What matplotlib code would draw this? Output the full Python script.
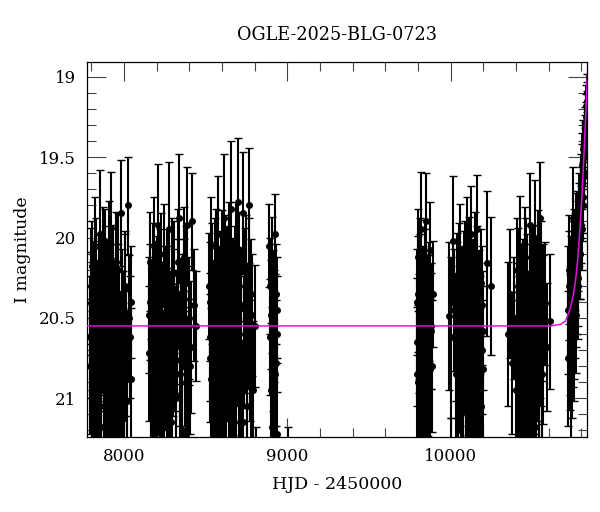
import matplotlib
matplotlib.use("Agg")
import matplotlib.pyplot as plt
from matplotlib.ticker import MultipleLocator

# ---- data (HJD-2450000, I mag, error) ----
t1 = [7792, 7798, 7803, 7807, 7812, 7818, 7823, 7829, 7834, 7840, 7846, 7851, 7857, 7862, 7868, 7874, 7880, 7886, 7892, 7898,
      7905, 7911, 7917, 7923, 7929, 7936, 7942, 7949, 7956, 7962, 7969, 7976, 7984, 7992, 8000, 8008, 8017, 8026, 8036, 8046]
m1 = [20.62, 20.41, 20.95, 20.18, 20.77, 21.10, 20.05, 20.55, 21.32, 20.48, 20.86, 19.98, 20.70, 21.18, 20.33, 20.60, 21.05, 20.12, 20.90, 20.45,
      21.40, 20.25, 20.68, 19.94, 20.83, 21.22, 20.50, 20.15, 20.97, 20.38, 21.28, 20.72, 19.85, 20.58, 21.12, 20.30, 20.88, 19.80, 20.62, 20.40]
e1 = [0.38, 0.32, 0.45, 0.28, 0.40, 0.48, 0.30, 0.36, 0.50, 0.34, 0.42, 0.40, 0.38, 0.47, 0.33, 0.36, 0.46, 0.30, 0.43, 0.35,
      0.50, 0.32, 0.39, 0.35, 0.41, 0.49, 0.36, 0.31, 0.45, 0.34, 0.50, 0.39, 0.33, 0.37, 0.47, 0.32, 0.43, 0.30, 0.38, 0.35]
t1b = [7795, 7800, 7805, 7810, 7815, 7820, 7826, 7831, 7837, 7843, 7848, 7854, 7859, 7865, 7871, 7877, 7883, 7889, 7895, 7901,
       7908, 7914, 7920, 7926, 7932, 7939, 7945, 7952, 7959, 7965, 7972, 7980, 7988, 7996, 8004, 8012, 8021, 8031, 8041]
m1b = [20.80, 20.30, 20.55, 21.05, 20.40, 20.68, 20.90, 20.22, 20.75, 21.15, 20.35, 20.62, 20.95, 20.48, 20.15, 20.85, 20.58, 21.20, 20.38, 20.72,
       20.10, 20.92, 20.52, 21.08, 20.28, 20.65, 20.98, 20.42, 20.78, 20.20, 20.60, 21.12, 20.45, 20.85, 20.32, 20.70, 21.02, 20.50, 20.88]
e1b = [0.42, 0.36, 0.40, 0.48, 0.38, 0.41, 0.45, 0.34, 0.42, 0.49, 0.37, 0.40, 0.46, 0.39, 0.34, 0.44, 0.40, 0.50, 0.37, 0.42,
       0.33, 0.45, 0.39, 0.48, 0.36, 0.41, 0.46, 0.38, 0.43, 0.35, 0.40, 0.48, 0.38, 0.44, 0.36, 0.41, 0.47, 0.39, 0.44]

t2 = [8153, 8158, 8164, 8170, 8176, 8182, 8188, 8194, 8200, 8207, 8213, 8220, 8227, 8233, 8240, 8247, 8254, 8261, 8268, 8275,
      8282, 8290, 8297, 8305, 8313, 8321, 8329, 8337, 8345, 8353, 8361, 8370, 8379, 8388, 8397, 8406, 8418, 8430, 8440]
m2 = [20.48, 20.15, 20.92, 20.60, 21.25, 20.05, 20.78, 20.36, 21.08, 19.92, 20.66, 20.28, 21.35, 20.52, 20.88, 20.10, 20.72, 21.15, 20.40, 19.95,
      20.83, 20.58, 21.30, 20.22, 20.69, 20.98, 20.35, 19.88, 20.76, 21.20, 20.46, 20.12, 20.90, 19.92, 20.55, 20.80, 19.90, 20.42, 20.55]
e2 = [0.36, 0.31, 0.44, 0.38, 0.49, 0.30, 0.41, 0.34, 0.46, 0.38, 0.39, 0.33, 0.50, 0.37, 0.43, 0.31, 0.40, 0.47, 0.35, 0.42,
      0.42, 0.37, 0.50, 0.32, 0.39, 0.45, 0.34, 0.40, 0.41, 0.48, 0.36, 0.31, 0.44, 0.36, 0.37, 0.42, 0.30, 0.35, 0.34]
t2b = [8156, 8161, 8167, 8173, 8179, 8185, 8191, 8197, 8203, 8210, 8216, 8223, 8230, 8236, 8243, 8250, 8257, 8264, 8271, 8278,
       8286, 8293, 8301, 8309, 8317, 8325, 8333, 8341, 8349, 8357, 8365, 8374, 8383, 8392, 8401, 8410]
m2b = [20.72, 20.40, 21.10, 20.55, 20.25, 20.88, 20.62, 21.18, 20.35, 20.80, 20.48, 20.95, 20.18, 20.66, 21.05, 20.42, 20.78, 20.30, 20.92, 20.58,
       21.15, 20.22, 20.70, 20.45, 21.00, 20.60, 20.15, 20.85, 20.52, 21.22, 20.38, 20.75, 20.28, 20.96, 20.50, 20.68]
e2b = [0.42, 0.36, 0.47, 0.39, 0.34, 0.44, 0.40, 0.49, 0.36, 0.43, 0.38, 0.45, 0.33, 0.40, 0.47, 0.37, 0.42, 0.35, 0.45, 0.39,
       0.48, 0.34, 0.41, 0.38, 0.46, 0.40, 0.33, 0.44, 0.39, 0.50, 0.37, 0.42, 0.35, 0.46, 0.38, 0.41]

t3 = [8521, 8527, 8533, 8539, 8545, 8551, 8557, 8563, 8569, 8575, 8582, 8588, 8594, 8601, 8607, 8614, 8620, 8627, 8634, 8641,
      8648, 8655, 8662, 8669, 8676, 8684, 8691, 8699, 8707, 8715, 8723, 8731, 8739, 8747, 8755, 8763, 8771, 8780, 8790, 8800, 8807]
m3 = [20.30, 20.75, 20.05, 21.12, 20.50, 20.88, 20.20, 21.30, 20.62, 19.98, 20.84, 20.40, 21.20, 20.14, 20.70, 19.88, 21.02, 20.46, 20.26, 21.38,
      20.58, 19.82, 20.92, 20.34, 21.15, 20.08, 20.66, 19.78, 20.96, 20.42, 21.26, 19.85, 20.60, 20.18, 21.05, 19.80, 20.74, 20.35, 20.95, 20.55, 21.65]
e3 = [0.33, 0.40, 0.30, 0.46, 0.36, 0.42, 0.32, 0.50, 0.38, 0.36, 0.42, 0.35, 0.48, 0.31, 0.40, 0.40, 0.45, 0.36, 0.33, 0.50,
      0.37, 0.42, 0.44, 0.34, 0.47, 0.30, 0.39, 0.40, 0.44, 0.35, 0.49, 0.38, 0.37, 0.32, 0.46, 0.36, 0.40, 0.34, 0.43, 0.38, 0.47]
t3b = [8524, 8530, 8536, 8542, 8548, 8554, 8560, 8566, 8572, 8578, 8585, 8591, 8597, 8604, 8610, 8617, 8623, 8630, 8637, 8644,
       8651, 8658, 8665, 8672, 8680, 8687, 8695, 8703, 8711, 8719, 8727, 8735, 8743, 8751, 8759, 8767, 8775, 8785]
m3b = [20.62, 20.40, 20.88, 20.25, 21.02, 20.55, 20.78, 20.15, 20.92, 20.45, 20.68, 21.12, 20.32, 20.85, 20.58, 20.20, 20.95, 20.48, 20.72, 20.10,
       21.08, 20.38, 20.80, 20.62, 20.28, 20.98, 20.52, 20.18, 20.86, 20.44, 21.15, 20.65, 20.30, 20.90, 20.55, 20.22, 20.82, 20.48]
e3b = [0.40, 0.37, 0.44, 0.34, 0.46, 0.39, 0.42, 0.33, 0.45, 0.38, 0.41, 0.48, 0.36, 0.44, 0.40, 0.34, 0.45, 0.38, 0.42, 0.32,
       0.47, 0.37, 0.43, 0.40, 0.35, 0.46, 0.39, 0.34, 0.44, 0.38, 0.48, 0.41, 0.36, 0.45, 0.39, 0.34, 0.43, 0.38]

t4 = [8889, 8892, 8895, 8898, 8901, 8904, 8907, 8910, 8913, 8916, 8919, 8922, 8925, 8928, 8931, 8934, 8937, 8940, 9003]
m4 = [20.05, 20.62, 20.30, 20.95, 20.48, 21.18, 20.15, 20.70, 20.40, 21.05, 20.55, 20.85, 19.98, 20.35, 20.78, 20.60, 21.22, 20.45, 21.70]
e4 = [0.26, 0.36, 0.30, 0.42, 0.34, 0.46, 0.28, 0.38, 0.32, 0.44, 0.35, 0.40, 0.25, 0.31, 0.39, 0.36, 0.47, 0.33, 0.52]

t5 = [9791, 9796, 9800, 9805, 9810, 9815, 9820, 9825, 9830, 9835, 9840, 9845, 9850, 9855, 9860, 9866, 9872, 9878, 9884, 9889]
m5 = [20.40, 20.85, 20.12, 20.60, 21.15, 20.30, 19.95, 20.72, 20.50, 21.02, 20.20, 20.66, 19.90, 20.92, 20.45, 21.25, 20.08, 20.58, 20.80, 20.35]
e5 = [0.33, 0.42, 0.30, 0.37, 0.46, 0.32, 0.36, 0.40, 0.35, 0.44, 0.31, 0.39, 0.30, 0.43, 0.34, 0.48, 0.30, 0.36, 0.41, 0.33]
t5b = [9793, 9798, 9803, 9808, 9813, 9818, 9823, 9828, 9833, 9838, 9843, 9848, 9853, 9858, 9863, 9869, 9875, 9881]
m5b = [20.65, 20.35, 20.90, 20.50, 20.22, 20.78, 21.05, 20.42, 20.85, 20.58, 20.30, 20.95, 20.48, 20.72, 21.12, 20.40, 20.82, 20.55]
e5b = [0.40, 0.36, 0.44, 0.38, 0.34, 0.42, 0.47, 0.37, 0.43, 0.40, 0.35, 0.45, 0.38, 0.41, 0.48, 0.37, 0.43, 0.39]

t6 = [9988, 10000, 10003, 10012, 10020, 10032, 10038, 10044, 10050, 10056, 10062, 10068, 10074, 10080, 10086, 10092, 10098, 10104,
      10110, 10116, 10122, 10128, 10134, 10140, 10146, 10152, 10158, 10164, 10170, 10176, 10182, 10188, 10194, 10200, 10222, 10245]
m6 = [20.49, 20.62, 21.60, 20.02, 20.45, 20.85, 20.30, 21.20, 20.55, 20.10, 20.95, 20.40, 21.32, 20.68, 20.22, 20.88, 20.05, 21.10,
      20.50, 20.75, 19.98, 21.25, 20.36, 20.82, 20.15, 21.05, 20.60, 19.95, 20.92, 20.44, 21.35, 20.28, 20.70, 20.58, 20.16, 20.30]
e6 = [0.46, 0.50, 0.48, 0.40, 0.38, 0.42, 0.33, 0.48, 0.37, 0.31, 0.44, 0.35, 0.50, 0.40, 0.32, 0.43, 0.30, 0.46,
      0.36, 0.41, 0.30, 0.49, 0.34, 0.42, 0.31, 0.45, 0.38, 0.34, 0.44, 0.36, 0.50, 0.33, 0.40, 0.37, 0.45, 0.43]
t6b = [10035, 10041, 10047, 10053, 10059, 10065, 10071, 10077, 10083, 10089, 10095, 10101, 10107, 10113, 10119, 10125, 10131, 10137,
       10143, 10149, 10155, 10161, 10167, 10173, 10179, 10185, 10191, 10197]
m6b = [20.62, 20.40, 20.95, 20.25, 20.75, 21.10, 20.50, 20.88, 20.32, 20.68, 21.02, 20.45, 20.80, 20.20, 20.92, 20.58, 21.15, 20.38,
       20.72, 20.48, 20.98, 20.28, 20.85, 20.55, 20.65, 21.05, 20.42, 20.82]
e6b = [0.40, 0.37, 0.45, 0.34, 0.42, 0.48, 0.39, 0.44, 0.36, 0.41, 0.46, 0.38, 0.43, 0.33, 0.45, 0.40, 0.49, 0.37,
       0.42, 0.38, 0.46, 0.35, 0.44, 0.39, 0.41, 0.47, 0.37, 0.43]

t7 = [10352, 10362, 10375, 10388, 10400, 10406, 10412, 10418, 10424, 10430, 10436, 10442, 10448, 10454, 10460, 10466, 10472, 10478,
      10484, 10490, 10496, 10502, 10508, 10514, 10520, 10526, 10532, 10538, 10544, 10550, 10556, 10562, 10568, 10578, 10590, 10605]
m7 = [20.60, 20.35, 20.78, 20.50, 20.95, 20.20, 21.15, 20.62, 20.05, 20.86, 20.40, 21.30, 20.58, 20.12, 20.90, 20.32, 21.08, 20.70,
      19.92, 20.48, 21.22, 20.25, 20.80, 20.00, 21.02, 20.55, 20.15, 20.92, 19.88, 20.66, 21.28, 20.38, 20.75, 20.41, 20.68, 20.52]
e7 = [0.45, 0.40, 0.44, 0.38, 0.44, 0.32, 0.47, 0.38, 0.31, 0.43, 0.35, 0.50, 0.37, 0.31, 0.44, 0.34, 0.46, 0.39,
      0.32, 0.36, 0.49, 0.33, 0.42, 0.36, 0.45, 0.37, 0.32, 0.44, 0.35, 0.39, 0.50, 0.34, 0.41, 0.38, 0.40, 0.42]
t7b = [10403, 10409, 10415, 10421, 10427, 10433, 10439, 10445, 10451, 10457, 10463, 10469, 10475, 10481, 10487, 10493, 10499, 10505,
       10511, 10517, 10523, 10529, 10535, 10541, 10547, 10553, 10559, 10565]
m7b = [20.55, 20.82, 20.30, 20.98, 20.45, 20.70, 21.12, 20.38, 20.88, 20.52, 20.22, 20.95, 20.62, 21.05, 20.42, 20.78, 20.28, 20.90,
       20.58, 21.18, 20.35, 20.72, 20.48, 21.00, 20.60, 20.25, 20.85, 20.50]
e7b = [0.39, 0.43, 0.36, 0.46, 0.38, 0.42, 0.48, 0.37, 0.44, 0.39, 0.34, 0.45, 0.40, 0.47, 0.38, 0.43, 0.35, 0.45,
       0.40, 0.49, 0.36, 0.42, 0.38, 0.46, 0.40, 0.35, 0.44, 0.39]

t8 = [10716, 10722, 10728, 10734, 10740, 10746, 10752, 10757, 10762, 10767, 10772, 10777, 10782, 10787, 10792, 10797, 10801, 10805,
      10809, 10813, 10817, 10821, 10825, 10829, 10833, 10836]
m8 = [20.45, 20.20, 20.65, 20.35, 20.72, 19.88, 20.50, 20.62, 20.15, 20.48, 20.28, 20.05, 20.30, 19.92, 20.10, 19.78, 19.95, 19.62,
      19.80, 19.48, 19.60, 19.40, 19.50, 19.30, 19.22, 19.15]
e8 = [0.40, 0.34, 0.42, 0.36, 0.40, 0.32, 0.38, 0.40, 0.30, 0.36, 0.32, 0.28, 0.33, 0.26, 0.28, 0.22, 0.25, 0.20,
      0.22, 0.18, 0.20, 0.16, 0.18, 0.14, 0.13, 0.12]
t8b = [10719, 10725, 10731, 10737, 10743, 10749, 10755, 10760, 10765, 10770, 10775, 10780, 10785, 10790, 10795, 10799, 10803, 10807,
       10811, 10815, 10819, 10823, 10827, 10831, 10835]
m8b = [20.75, 20.30, 20.58, 20.85, 20.22, 20.55, 20.12, 20.40, 20.00, 20.35, 19.98, 20.25, 19.85, 20.10, 19.70, 19.92, 19.55, 19.75,
       19.45, 19.62, 19.35, 19.45, 19.25, 19.18, 19.10]
e8b = [0.42, 0.34, 0.40, 0.44, 0.32, 0.38, 0.30, 0.35, 0.28, 0.33, 0.27, 0.30, 0.25, 0.28, 0.22, 0.24, 0.20, 0.22,
       0.18, 0.19, 0.16, 0.17, 0.14, 0.13, 0.12]

# model curve
model_t = [7700, 10612, 10673, 10703, 10722, 10737, 10752, 10765, 10777, 10786, 10795, 10805, 10814, 10823, 10832, 10845]
model_m = [20.55, 20.55, 20.54, 20.52, 20.47, 20.42, 20.35, 20.26, 20.14, 20.02, 19.88, 19.71, 19.52, 19.32, 19.11, 18.80]

title = "OGLE-2025-BLG-0723"
xlabel = "HJD - 2450000"
ylabel = "I magnitude"

plt.rcParams['font.family'] = ['DejaVu Serif']

fig = plt.figure(figsize=(6.0, 5.12), dpi=100)
ax = fig.add_axes([0.1455, 0.1471, 0.8333, 0.7312])

seasons = [(t1, m1, e1), (t1b, m1b, e1b), (t2, m2, e2), (t2b, m2b, e2b),
           (t3, m3, e3), (t3b, m3b, e3b), (t4, m4, e4),
           (t5, m5, e5), (t5b, m5b, e5b), (t6, m6, e6), (t6b, m6b, e6b),
           (t7, m7, e7), (t7b, m7b, e7b), (t8, m8, e8), (t8b, m8b, e8b)]
for t, m, e in seasons:
    ax.errorbar(t, m, yerr=e, fmt='o', ms=4.0, color='black', ecolor='black',
                elinewidth=1.5, capsize=3.0, capthick=1.0, zorder=2)

ax.plot(model_t, model_m, color='#e010e0', lw=1.1, zorder=5)

ax.set_xlim(7776, 10836)
ax.set_ylim(21.239, 18.910)

ax.xaxis.set_major_locator(MultipleLocator(1000))
ax.xaxis.set_minor_locator(MultipleLocator(200))
ax.yaxis.set_major_locator(MultipleLocator(0.5))
ax.yaxis.set_minor_locator(MultipleLocator(0.1))
ax.yaxis.set_major_formatter(plt.FuncFormatter(lambda v, p: ('%g' % v)))

ax.tick_params(which='both', direction='in', top=True, right=True, labelsize=12,
               color='#444444', width=0.8)
ax.tick_params(which='major', length=13.5, pad=8)
ax.tick_params(which='minor', length=6.7)
for sp in ax.spines.values():
    sp.set_linewidth(0.9)

ax.set_title(title, fontsize=12.7, pad=16)
ax.set_xlabel(xlabel, fontsize=12.5, labelpad=8)
ax.set_ylabel(ylabel, fontsize=12.5, labelpad=6)

fig.savefig("out.png", dpi=100)
